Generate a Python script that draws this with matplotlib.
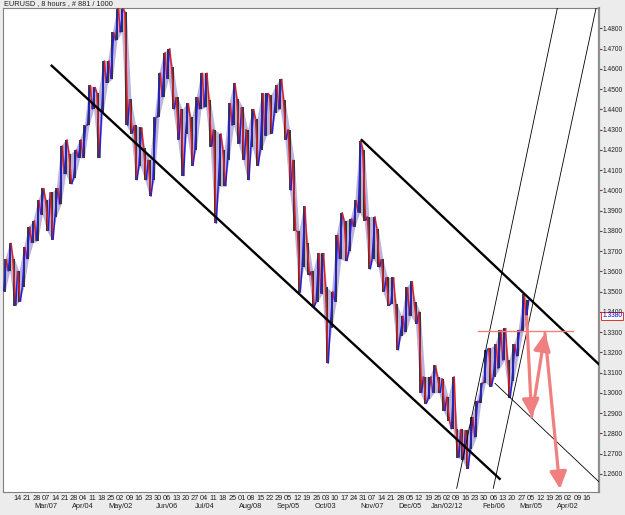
import numpy as np
import pandas as pd
import matplotlib
matplotlib.use("Agg")
import matplotlib.pyplot as plt

plt.rcParams['font.family'] = ['Liberation Sans', 'DejaVu Sans']

# EURUSD H8 in half-week steps (highs / lows)
bar_high = [1.366, 1.374, 1.366, 1.360, 1.372, 1.382, 1.385, 1.395, 1.401, 1.395,
            1.399, 1.401, 1.422, 1.425, 1.418, 1.420, 1.425, 1.432, 1.452, 1.451,
            1.448, 1.464, 1.464, 1.478, 1.490, 1.490, 1.488, 1.445, 1.432, 1.431,
            1.421, 1.415, 1.436, 1.458, 1.468, 1.470, 1.461, 1.446, 1.440, 1.443,
            1.436, 1.446, 1.458, 1.458, 1.4446, 1.430, 1.428, 1.420, 1.443, 1.453,
            1.445, 1.441, 1.430, 1.440, 1.435, 1.448, 1.448, 1.447, 1.452, 1.455,
            1.4446, 1.430, 1.415, 1.380, 1.392, 1.374, 1.360, 1.369, 1.369, 1.352,
            1.350, 1.378, 1.389, 1.385, 1.386, 1.395, 1.4245, 1.420, 1.387, 1.387,
            1.381, 1.366, 1.357, 1.357, 1.344, 1.338, 1.352, 1.355, 1.345, 1.340,
            1.308, 1.308, 1.3135, 1.308, 1.307, 1.298, 1.308, 1.282, 1.282, 1.2815,
            1.288, 1.296, 1.305, 1.321, 1.322, 1.324, 1.331, 1.332, 1.316, 1.324,
            1.331, 1.3486, 1.346]
bar_low = [1.350, 1.360, 1.343, 1.345, 1.352, 1.366, 1.374, 1.375, 1.388, 1.380,
           1.3755, 1.387, 1.393, 1.408, 1.403, 1.406, 1.416, 1.416, 1.432, 1.440,
           1.416, 1.438, 1.453, 1.455, 1.474, 1.478, 1.432, 1.428, 1.405, 1.412,
           1.405, 1.397, 1.405, 1.436, 1.446, 1.455, 1.440, 1.425, 1.407, 1.428,
           1.412, 1.420, 1.440, 1.441, 1.4215, 1.3836, 1.402, 1.402, 1.415, 1.432,
           1.423, 1.415, 1.405, 1.4215, 1.412, 1.420, 1.427, 1.428, 1.438, 1.440,
           1.425, 1.400, 1.380, 1.3495, 1.362, 1.358, 1.3425, 1.345, 1.349, 1.3145,
           1.332, 1.345, 1.366, 1.365, 1.370, 1.382, 1.389, 1.385, 1.361, 1.366,
           1.362, 1.350, 1.343, 1.344, 1.321, 1.328, 1.330, 1.338, 1.334, 1.300,
           1.2945, 1.297, 1.300, 1.300, 1.291, 1.286, 1.282, 1.268, 1.267, 1.2624,
           1.272, 1.278, 1.295, 1.305, 1.303, 1.308, 1.312, 1.316, 1.2975, 1.306,
           1.318, 1.330, 1.336]
first_bar_week = -0.825      # chart position of the first bar, in weeks
bar_step = 0.5
last_price = 1.3380

# drawn objects (week, price)
lower_channel = ([4.18, 52.2], [1.4615, 1.2575])
upper_channel = ([37.41, 62.8], [1.4248, 1.3142])
mid_channel = ([51.69, 62.8], [1.3047, 1.2562])
steep_a = ([47.59, 58.45], [1.2528, 1.4915])
steep_b = ([51.51, 62.6], [1.2528, 1.4915])
level_line = ([49.9, 60.09], [1.3305, 1.3305])
arrow_path = ([55.09, 55.62, 57.05, 58.66], [1.3376, 1.2882, 1.3293, 1.2525])

# weekly time labels, starting Mon 14 Feb 2011
first_label_week = 0.54
day_labels = list(pd.date_range('2011-02-14', periods=62, freq='7D').strftime('%d'))
month_labels = ['Mar/07', 'Apr/04', 'May/02', 'Jun/06', 'Jul/04', 'Aug/08', 'Sep/05',
                'Oct/03', 'Nov/07', 'Dec/05', 'Jan/02/12', 'Feb/06', 'Mar/05', 'Apr/02']
month_label_idx = [3, 7, 11, 16, 20, 25, 29, 33, 38, 42, 46, 51, 55, 59]
price_ticks = np.round(np.arange(1.26, 1.4801, 0.01), 2)

bg = '#ECECEC'
fig = plt.figure(figsize=(6.25, 5.15), dpi=100, facecolor=bg)
ax = fig.add_axes([3 / 625, 23 / 515, 595.5 / 625, 484 / 515], facecolor='white')

hi = np.array(bar_high)
lo = np.array(bar_low)
t = first_bar_week + bar_step * np.arange(len(hi))
mid = (hi + lo) / 2
up = np.r_[True, np.diff(mid) > 0]

# dense bar band: range envelope, black wicks, blue/red zigzag
ax.fill_between(t, lo, hi, color='#7868b8', alpha=0.5, lw=0, zorder=1)
zx, zy = [], []
for k in range(len(t)):
    a, b = (lo[k], hi[k]) if up[k] else (hi[k], lo[k])
    zx += [t[k] - 0.15, t[k] + 0.15]
    zy += [a, b]
zx, zy = np.array(zx), np.array(zy)
ax.vlines(t, lo, hi, color='#1a1a1a', lw=1.2, zorder=2)
for i in range(len(zx) - 1):
    c = '#2020d8' if zy[i + 1] > zy[i] else '#d82020'
    ax.plot(zx[i:i + 2], zy[i:i + 2], color=c, lw=1.1, zorder=3, solid_capstyle='butt')

# trend lines
ax.plot(*lower_channel, color='black', lw=1.7, zorder=4)
ax.plot(*upper_channel, color='black', lw=1.7, zorder=4)
ax.plot(*mid_channel, color='black', lw=0.6, zorder=4)
ax.plot(*steep_a, color='black', lw=0.6, zorder=4)
ax.plot(*steep_b, color='black', lw=0.6, zorder=4)
ax.plot(*level_line, color='#f08080', lw=1.0, zorder=4)

ap_t, ap_p = arrow_path
for i in range(len(ap_t) - 1):
    ax.annotate('', xy=(ap_t[i + 1], ap_p[i + 1]), xytext=(ap_t[i], ap_p[i]),
                arrowprops=dict(arrowstyle='-|>,head_length=0.65,head_width=0.32',
                                color='#f08080', lw=2.3,
                                mutation_scale=16, shrinkA=0, shrinkB=0), zorder=5)

ax.set_xlim(-1.04, 62.79)
ax.set_ylim(1.2510, 1.4900)

label_pos = first_label_week + np.arange(len(day_labels))
ax.set_xticks(label_pos)
ax.set_xticklabels(day_labels)
ax.tick_params(axis='x', length=0, pad=2, labelsize=5.3, labelcolor='#202020')
for lab, i in zip(month_labels, month_label_idx):
    ax.text(label_pos[i], -15 / 484, lab, transform=ax.get_xaxis_transform(),
            fontsize=5.3, ha='center', va='center', color='#202020')

ax.yaxis.tick_right()
ax.set_yticks(price_ticks)
ax.set_yticklabels([f'{v:.4f}' for v in price_ticks])
ax.tick_params(axis='y', length=2.5, pad=0.6, labelsize=4.8, color='#803030',
               labelcolor='#202020')

for s in ['left', 'top', 'bottom']:
    ax.spines[s].set_color('#808080')
    ax.spines[s].set_linewidth(0.8)
ax.spines['right'].set_color('#909090')
ax.spines['right'].set_linewidth(1.6)

ax.text(1.006, last_price, f'{last_price:.4f}', transform=ax.get_yaxis_transform(),
        fontsize=4.8, color='#0000c0', va='center', ha='left', zorder=6,
        bbox=dict(boxstyle='square,pad=0.12', fc='white', ec='#e03030', lw=0.7))

fig.text(4 / 625, 1 - 4 / 515, 'EURUSD , 8 hours , # 881 / 1000', fontsize=5.3,
         va='center', ha='left', color='#202020')

fig.savefig('out.png', dpi=100, facecolor=bg)
